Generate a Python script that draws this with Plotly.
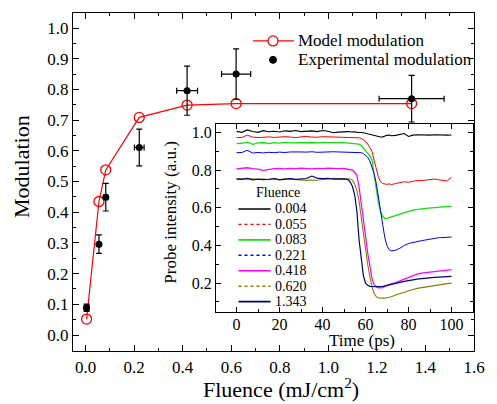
import plotly.graph_objects as go

# ---------------- main panel data ----------------
fluence = [0.004, 0.055, 0.083, 0.221, 0.418, 0.620, 1.343]
model_mod = [0.052, 0.435, 0.538, 0.709, 0.749, 0.754, 0.754]
exp_mod = [0.089, 0.296, 0.449, 0.611, 0.796, 0.850, 0.770]
exp_mod_err = [0.012, 0.030, 0.045, 0.060, 0.080, 0.082, 0.076]
fluence_err = [0.010, 0.005, 0.008, 0.020, 0.043, 0.060, 0.134]

# ---------------- inset data (probe traces) ----------------
time_ps = [0, 2.5, 5, 7.5, 10, 12.5, 15, 17.5, 20, 22.5, 25, 27.5, 30, 32.5, 35,
           37.5, 40, 42.5, 45, 47.5, 50,
           51, 52, 53, 54, 55, 56, 57, 58, 59, 60, 61, 62, 63, 64, 65, 66, 67, 68,
           69, 70, 71, 72,
           74, 76, 78, 80, 82, 84, 86, 88, 90, 92, 94, 96, 98, 100]

probe_0004 = [1.005, 1.0, 1.013, 1.004, 1.0, 1.009, 1.003, 1.006, 1.002, 1.008, 1.005,
              1.01, 1.004, 1.006, 1.008, 1.004, 1.01, 1.006, 0.998, 1.001, 1.004,
              1.003, 1.004, 1.002, 1.004, 1.003, 1.0, 1.001, 0.999, 0.998, 0.995, 0.992,
              0.988, 0.985, 0.982, 0.979, 0.976, 0.975, 0.976, 0.981, 0.984, 0.986, 0.982,
              0.984, 0.99, 0.994, 0.978, 0.985, 0.987, 0.986, 0.988, 0.985, 0.987, 0.986,
              0.983, 0.985, 0.986]
probe_0055 = [0.972, 0.973, 0.985, 0.975, 0.972, 0.974, 0.976, 0.973, 0.975, 0.977, 0.975,
              0.972, 0.976, 0.978, 0.975, 0.974, 0.977, 0.976, 0.978, 0.976, 0.975,
              0.974, 0.975, 0.973, 0.974, 0.972, 0.973, 0.971, 0.968, 0.962, 0.952, 0.938,
              0.92, 0.9, 0.852, 0.805, 0.762, 0.738, 0.728, 0.726, 0.724, 0.727, 0.723,
              0.728, 0.732, 0.738, 0.735, 0.742, 0.745, 0.744, 0.748, 0.75, 0.752, 0.748,
              0.743, 0.742, 0.762]
probe_0083 = [0.94, 0.942, 0.948, 0.936, 0.944, 0.946, 0.94, 0.945, 0.943, 0.947, 0.944,
              0.945, 0.943, 0.948, 0.946, 0.944, 0.947, 0.945, 0.946, 0.944, 0.945,
              0.944, 0.943, 0.942, 0.943, 0.941, 0.94, 0.937, 0.93, 0.918, 0.902, 0.89,
              0.875, 0.855, 0.775, 0.7, 0.628, 0.578, 0.553, 0.544, 0.543, 0.548, 0.552,
              0.56, 0.566, 0.574, 0.58, 0.587, 0.592, 0.594, 0.596, 0.598, 0.601, 0.602,
              0.605, 0.606, 0.608]
probe_0221 = [0.892, 0.893, 0.905, 0.89, 0.893, 0.891, 0.894, 0.892, 0.895, 0.893, 0.896,
              0.894, 0.896, 0.895, 0.897, 0.894, 0.896, 0.895, 0.897, 0.896, 0.895,
              0.896, 0.895, 0.896, 0.895, 0.896, 0.895, 0.894, 0.892, 0.888, 0.88, 0.868,
              0.848, 0.815, 0.78, 0.73, 0.668, 0.585, 0.51, 0.44, 0.398, 0.378, 0.371,
              0.374, 0.385, 0.4, 0.41, 0.416, 0.421, 0.425, 0.429, 0.434, 0.44, 0.441,
              0.442, 0.443, 0.444]
probe_0418 = [0.806, 0.808, 0.812, 0.807, 0.805, 0.798, 0.803, 0.807, 0.808, 0.806, 0.809,
              0.807, 0.81, 0.808, 0.806, 0.809, 0.807, 0.81, 0.808, 0.807, 0.808,
              0.806, 0.807, 0.805, 0.8, 0.787, 0.77, 0.71, 0.63, 0.545, 0.45, 0.36,
              0.28, 0.225, 0.192, 0.18, 0.175, 0.174, 0.176, 0.182, 0.188, 0.192, 0.196,
              0.203, 0.212, 0.223, 0.232, 0.242, 0.248, 0.253, 0.256, 0.258, 0.264, 0.267,
              0.269, 0.27, 0.272]
probe_0620 = [0.755, 0.753, 0.752, 0.754, 0.75, 0.752, 0.749, 0.753, 0.75, 0.754, 0.752,
              0.748, 0.746, 0.745, 0.747, 0.746, 0.75, 0.755, 0.756, 0.755, 0.755,
              0.756, 0.755, 0.752, 0.745, 0.725, 0.69, 0.635, 0.55, 0.46, 0.37, 0.3,
              0.235, 0.18, 0.145, 0.128, 0.121, 0.119, 0.12, 0.12, 0.122, 0.125, 0.128,
              0.137, 0.145, 0.153, 0.16, 0.166, 0.172, 0.176, 0.179, 0.182, 0.187, 0.19,
              0.194, 0.197, 0.2]
probe_1343 = [0.752, 0.75, 0.756, 0.748, 0.752, 0.749, 0.751, 0.755, 0.748, 0.752, 0.754,
              0.75, 0.753, 0.755, 0.768, 0.757, 0.754, 0.756, 0.752, 0.754, 0.753,
              0.752, 0.748, 0.735, 0.71, 0.665, 0.58, 0.43, 0.32, 0.24, 0.2, 0.188,
              0.183, 0.182, 0.181, 0.182, 0.182, 0.181, 0.183, 0.186, 0.189, 0.19, 0.192,
              0.198, 0.204, 0.209, 0.214, 0.218, 0.221, 0.224, 0.227, 0.229, 0.23, 0.232,
              0.233, 0.234, 0.236]

trace_labels = ["0.004", "0.055", "0.083", "0.221", "0.418", "0.620", "1.343"]
trace_values = [probe_0004, probe_0055, probe_0083, probe_0221, probe_0418, probe_0620, probe_1343]
trace_colors = ["#000000", "#ff0000", "#11e011", "#0000ff", "#ff00ff", "#808000", "#000080"]
trace_width = [1.1, 1.0, 1.3, 1.0, 1.3, 1.1, 1.2]
legend_dash = ["solid", "dot", "solid", "dot", "solid", "dot", "solid"]

main_x_ticks = [0.0, 0.2, 0.4, 0.6, 0.8, 1.0, 1.2, 1.4, 1.6]
main_y_ticks = [0.0, 0.1, 0.2, 0.3, 0.4, 0.5, 0.6, 0.7, 0.8, 0.9, 1.0]
inset_x_ticks = [0, 20, 40, 60, 80, 100]
inset_y_ticks = [0.2, 0.4, 0.6, 0.8, 1.0]

FONT = "Liberation Serif, Times New Roman, serif"

# plot-area geometry (pixels) used to place text/legend items in paper space
W, H = 497, 404
L, R, T, B = 73, 12, 12, 53
PW, PH = W - L - R, H - T - B


def px(x):
    return (x - L) / PW


def py(y):
    return (H - B - y) / PH


fig = go.Figure()

# model curve
fig.add_trace(go.Scatter(
    x=fluence, y=model_mod, mode="lines+markers",
    line=dict(color="#ff0000", width=1.2),
    marker=dict(symbol="circle-open", size=10, color="#ff0000", line=dict(width=1.3)),
    xaxis="x", yaxis="y", showlegend=False,
))

# experimental points with error bars
fig.add_trace(go.Scatter(
    x=fluence, y=exp_mod, mode="markers",
    marker=dict(symbol="circle", size=7, color="#000000"),
    error_y=dict(type="data", array=exp_mod_err, color="#000000", thickness=1.2, width=3),
    error_x=dict(type="data", array=fluence_err, color="#000000", thickness=1.2, width=3),
    xaxis="x", yaxis="y", showlegend=False,
))

# inset probe traces
for lab, vals, col, lw in zip(trace_labels, trace_values, trace_colors, trace_width):
    fig.add_trace(go.Scatter(
        x=time_ps, y=vals, mode="lines", name=lab,
        line=dict(color=col, width=lw),
        xaxis="x2", yaxis="y2", showlegend=False,
    ))

axis_common = dict(
    showgrid=False, zeroline=False, showline=True, linecolor="#000000", linewidth=1.4,
    mirror="allticks", ticks="inside", tickcolor="#000000", tickwidth=1.2,
)

fig.update_layout(
    width=W, height=H, autosize=False,
    margin=dict(l=L, r=R, t=T, b=B, pad=0),
    paper_bgcolor="white", plot_bgcolor="white",
    font=dict(family=FONT, color="#000000", size=17),
    showlegend=False,
    xaxis=dict(
        **axis_common, domain=[0, 1], anchor="y", range=[-0.052, 1.6],
        tickvals=main_x_ticks, ticktext=[f"{v:.1f}" for v in main_x_ticks], ticklen=6,
        minor=dict(ticks="inside", ticklen=3, dtick=0.1, tick0=0, tickcolor="#000000"),
        tickfont=dict(size=17),
    ),
    yaxis=dict(
        **axis_common, domain=[0, 1], anchor="x", range=[-0.052, 1.049],
        tickvals=main_y_ticks, ticktext=[f"{v:.1f}" for v in main_y_ticks], ticklen=6,
        minor=dict(ticks="inside", ticklen=3, dtick=0.05, tick0=0, tickcolor="#000000"),
        tickfont=dict(size=17),
    ),
    xaxis2=dict(
        **axis_common, domain=[px(220), px(484)], anchor="y2", range=[-9.5, 110],
        tickvals=inset_x_ticks, ticklen=5, ticklabelstandoff=-3,
        minor=dict(ticks="inside", ticklen=3, dtick=10, tick0=0, tickcolor="#000000"),
        tickfont=dict(size=16),
    ),
    yaxis2=dict(
        **axis_common, domain=[py(312), py(123)], anchor="x2", range=[0.046, 1.046],
        tickvals=inset_y_ticks, ticktext=[f"{v:.1f}" for v in inset_y_ticks], ticklen=5,
        minor=dict(ticks="inside", ticklen=3, dtick=0.1, tick0=0, tickcolor="#000000"),
        tickfont=dict(size=16),
    ),
)

annotations = [
    dict(text="Modulation", x=px(20), y=py(166), textangle=-90, font=dict(size=22)),
    dict(text="Fluence (mJ/cm<sup>2</sup>)", x=px(287), y=py(388), font=dict(size=22)),
    dict(text="Probe intensity (a.u.)", x=px(173), y=py(212), textangle=-90, font=dict(size=17)),
    dict(text="Time (ps)", x=px(370), y=py(340), font=dict(size=17)),
    # main legend labels
    dict(text="Model modulation", x=px(302), y=py(40), xanchor="left", font=dict(size=17)),
    dict(text="Experimental modulation", x=px(302), y=py(59), xanchor="left", font=dict(size=17)),
    # inset legend title
    dict(text="Fluence", x=px(284), y=py(192), font=dict(size=14)),
]

shapes = [
    # main legend samples
    dict(type="line", xref="paper", yref="paper", x0=px(258), x1=px(300), y0=py(40), y1=py(40),
         line=dict(color="#ff0000", width=1.2)),
    dict(type="circle", xref="paper", yref="paper", xsizemode="pixel", ysizemode="pixel",
         xanchor=px(278.5), yanchor=py(40), x0=-5, x1=5, y0=-5, y1=5,
         fillcolor="white", line=dict(color="#ff0000", width=1.3)),
    dict(type="circle", xref="paper", yref="paper", xsizemode="pixel", ysizemode="pixel",
         xanchor=px(278.5), yanchor=py(59), x0=-3.5, x1=3.5, y0=-3.5, y1=3.5,
         fillcolor="#000000", line=dict(color="#000000", width=1)),
]

legend_rows = [208.5, 224, 239.5, 255, 270.5, 286, 301.5]
for lab, col, dsh, lw, yy in zip(trace_labels, trace_colors, legend_dash, trace_width, legend_rows):
    shapes.append(dict(type="line", xref="paper", yref="paper", x0=px(243), x1=px(276),
                       y0=py(yy), y1=py(yy), line=dict(color=col, width=lw + 0.4, dash=dsh)))
    annotations.append(dict(text=lab, x=px(278.5), y=py(yy), xanchor="left", font=dict(size=14)))

for a in annotations:
    a.setdefault("xref", "paper")
    a.setdefault("yref", "paper")
    a.setdefault("showarrow", False)
    a.setdefault("xanchor", "center")
    a.setdefault("yanchor", "middle")

fig.update_layout(annotations=annotations, shapes=shapes)

fig.write_html("out.html")
